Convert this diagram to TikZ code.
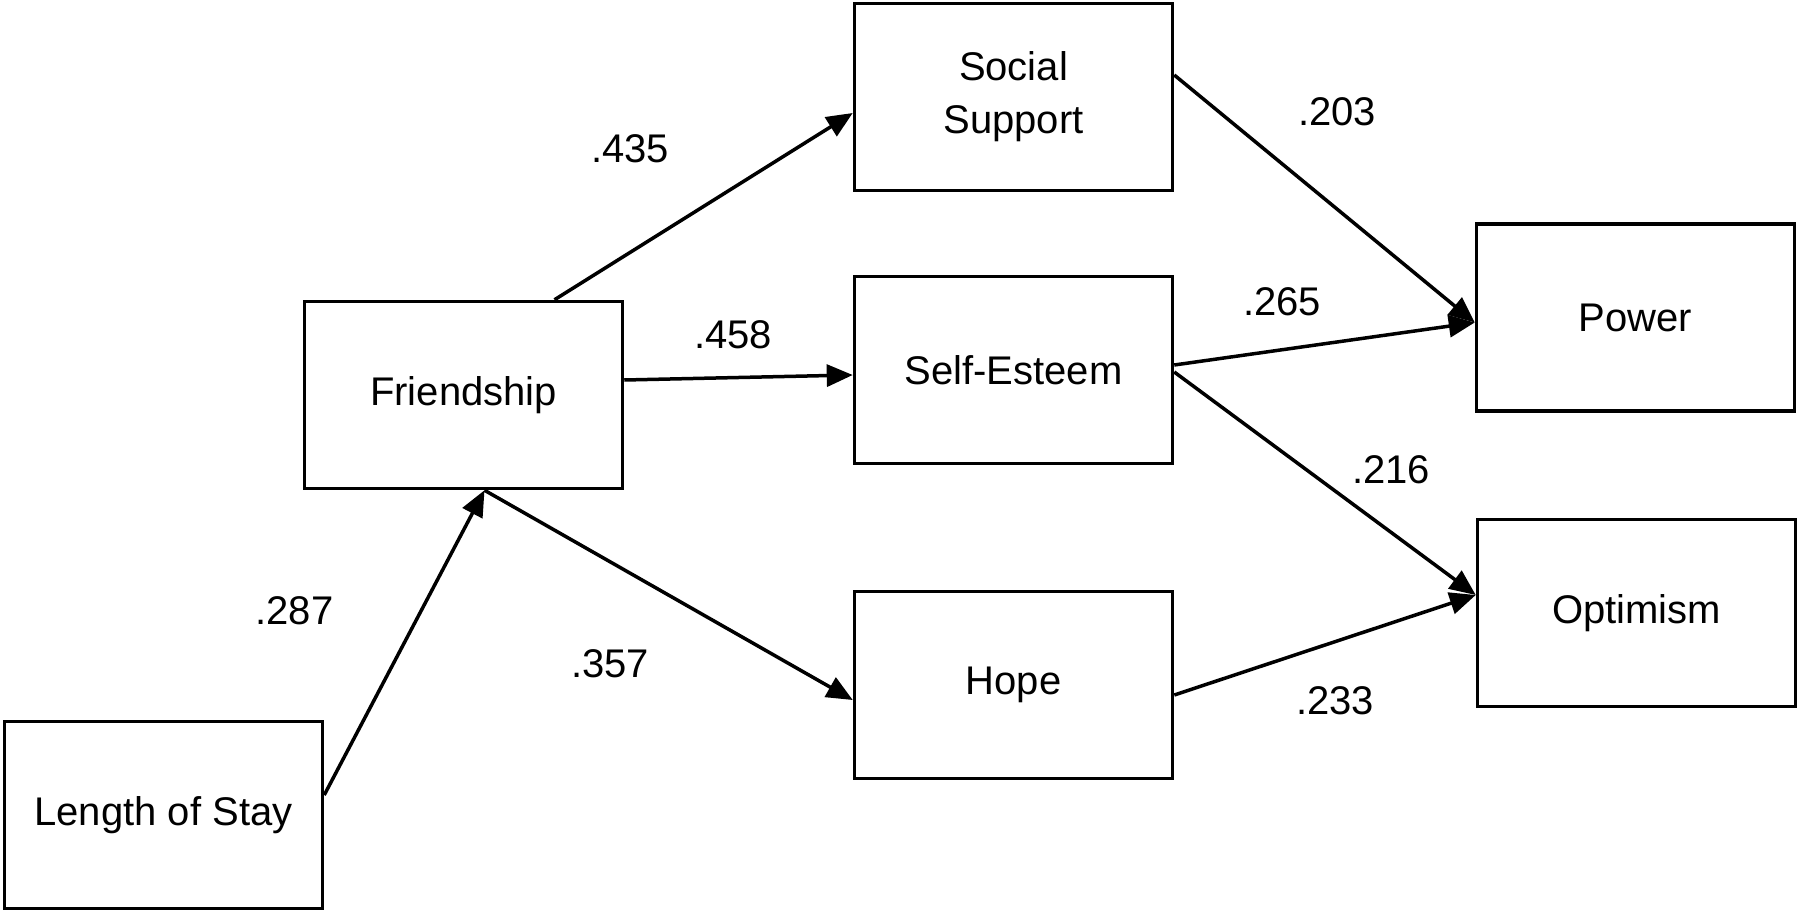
\documentclass[tikz,border=0pt]{standalone}
\usepackage{fontspec}
\setmainfont{Liberation Sans}
\usetikzlibrary{arrows.meta}
\begin{document}
\begin{tikzpicture}[x=1pt,y=-1pt,
  box/.style={draw,line width=3.5pt,minimum width=318pt,minimum height=187pt,inner sep=0pt,align=center,font=\fontsize{40}{53}\selectfont},
  lab/.style={inner sep=0pt,font=\fontsize{40}{48}\selectfont},
  conn/.style={line width=3.5pt,-{Triangle[length=26pt,width=22pt]}}]
\useasboundingbox (0,0) rectangle (1800,913);
\node[box] (los) at (163.5,815) {Length of Stay};
\node[box] (fr) at (463.5,395) {Friendship};
\node[box] (ss) at (1013.5,97) {Social\\Support};
\node[box] (se) at (1013.5,370) {Self-Esteem};
\node[box] (hope) at (1013.5,685) {Hope};
\node[box] (pow) at (1635.5,317.5) {Power};
\node[box] (opt) at (1636.5,613) {Optimism};
\draw[conn] ([yshift=20pt]los.east) -- ([xshift=21pt]fr.south);
\draw[conn] ([xshift=91pt]fr.north) -- ([yshift=-16pt]ss.west);
\draw[conn] ([yshift=15pt]fr.east) -- ([yshift=-5pt]se.west);
\draw[conn] ([xshift=21pt]fr.south) -- ([yshift=-15pt]hope.west);
\draw[conn] ([yshift=22pt]ss.east) -- ([yshift=-5pt]pow.west);
\draw[conn] ([yshift=5pt]se.east) -- ([yshift=-5pt]pow.west);
\draw[conn] ([yshift=-2pt]se.east) -- ([yshift=18pt]opt.west);
\draw[conn] ([yshift=-10pt]hope.east) -- ([yshift=18pt]opt.west);
\node[lab] (l1) at (630,149) {.435};
\node[lab] (l2) at (733,335) {.458};
\node[lab] (l3) at (1337,112) {.203};
\node[lab] (l4) at (1282,302) {.265};
\node[lab] (l5) at (1391,470) {.216};
\node[lab] (l6) at (1335,701) {.233};
\node[lab] (l7) at (294.5,611) {.287};
\node[lab] (l8) at (610,664) {.357};
\end{tikzpicture}
\end{document}
